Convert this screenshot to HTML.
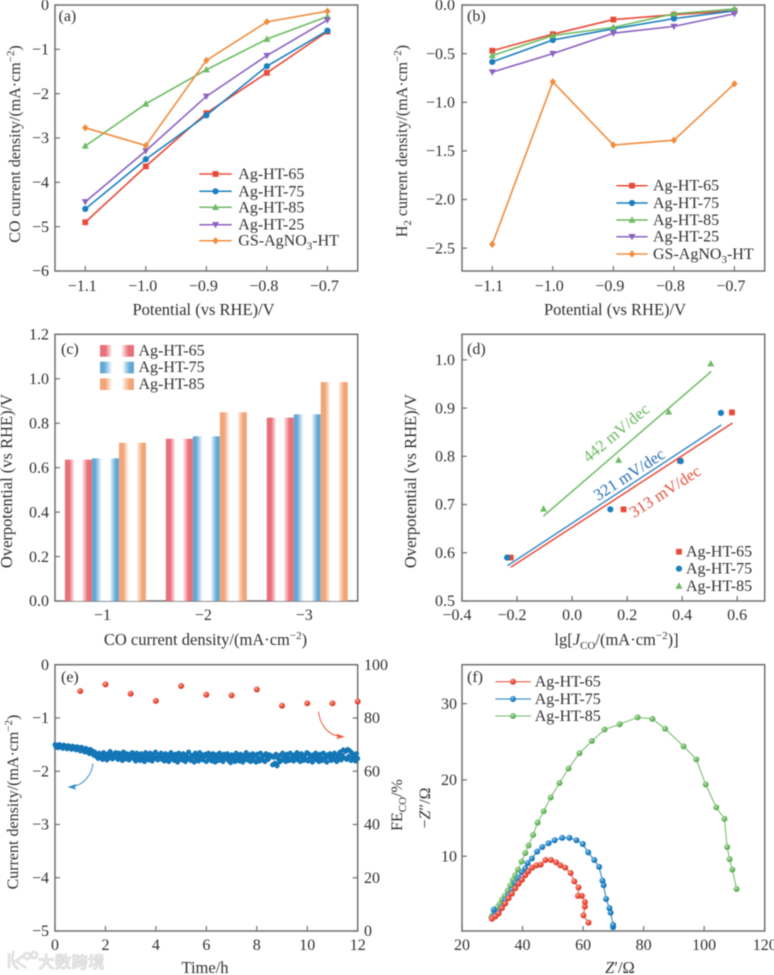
<!DOCTYPE html>
<html lang="en">
<head>
<meta charset="utf-8">
<title>Electrochemical CO2 reduction performance panels</title>
<style>
html,body{margin:0;padding:0;background:#fff;}
body{width:774px;height:975px;overflow:hidden;}
#fig{display:block;filter:blur(0.45px);}
text{font-family:"Liberation Serif","Noto Serif CJK SC",serif;font-size:16px;fill:#303030;}
.title{font-size:16.5px;}
.frame{fill:none;stroke:#707070;stroke-width:1.5;}
.tick{stroke:#707070;stroke-width:1.2;}
.wm{font-family:"Liberation Sans","Noto Sans CJK SC",sans-serif;font-size:16.5px;font-weight:700;fill:#e8e8e8;stroke:#d2d2d2;stroke-width:.5;letter-spacing:.2px;}
</style>
</head>
<body>
<svg id="fig" xmlns="http://www.w3.org/2000/svg" width="774" height="975" viewBox="0 0 774 975">
<defs>
<linearGradient id="grad-red" x1="0" x2="1" y1="0" y2="0"><stop offset="0" stop-color="#e96f78"/><stop offset=".16" stop-color="#e96f78"/><stop offset=".36" stop-color="#fff"/><stop offset=".62" stop-color="#fff"/><stop offset=".68" stop-color="#f9d3d6"/><stop offset=".84" stop-color="#e96f78"/><stop offset="1" stop-color="#e96f78"/></linearGradient>
<linearGradient id="grad-blue" x1="0" x2="1" y1="0" y2="0"><stop offset="0" stop-color="#62a8d6"/><stop offset=".12" stop-color="#62a8d6"/><stop offset=".36" stop-color="#fff"/><stop offset=".66" stop-color="#fff"/><stop offset=".72" stop-color="#cfe4f3"/><stop offset=".88" stop-color="#62a8d6"/><stop offset="1" stop-color="#62a8d6"/></linearGradient>
<linearGradient id="grad-orange" x1="0" x2="1" y1="0" y2="0"><stop offset="0" stop-color="#f2a678"/><stop offset=".16" stop-color="#f2a678"/><stop offset=".36" stop-color="#fff"/><stop offset=".66" stop-color="#fff"/><stop offset=".7" stop-color="#fbe3d3"/><stop offset=".86" stop-color="#f2a678"/><stop offset="1" stop-color="#f2a678"/></linearGradient>
<radialGradient id="ball-red" cx=".38" cy=".35" r=".7"><stop offset="0" stop-color="#fbb3a6"/><stop offset=".5" stop-color="#ea4c3a"/><stop offset="1" stop-color="#d9382a"/></radialGradient>
<radialGradient id="ball-blue" cx=".38" cy=".35" r=".7"><stop offset="0" stop-color="#9fd0ef"/><stop offset=".5" stop-color="#1f82c4"/><stop offset="1" stop-color="#146fb0"/></radialGradient>
<radialGradient id="ball-green" cx=".38" cy=".35" r=".7"><stop offset="0" stop-color="#c8e8bc"/><stop offset=".5" stop-color="#6db965"/><stop offset="1" stop-color="#58a850"/></radialGradient>
</defs>

<!-- Panel frames -->
<rect class="frame" x="55" y="5" width="302.7" height="266"/>
<rect class="frame" x="462" y="5" width="302.7" height="266"/>
<rect class="frame" x="55" y="334.3" width="302.7" height="266.7"/>
<rect class="frame" x="462" y="334.3" width="302.7" height="266.7"/>
<rect class="frame" x="55" y="664.7" width="302.7" height="266.3"/>
<rect class="frame" x="462" y="664.7" width="302.7" height="266.3"/>

<!-- Panel letters -->
<text x="58.5" y="21">(a)</text>
<text x="467" y="21">(b)</text>
<text x="61" y="354">(c)</text>
<text x="467" y="354">(d)</text>
<text x="61" y="682">(e)</text>
<text x="467" y="682">(f)</text>

<!-- Axis titles -->
<text class="title" x="203.5" y="315" text-anchor="middle">Potential (vs RHE)/V</text>
<text text-anchor="middle" transform="translate(20,144) rotate(-90)">CO current density/(mA·cm<tspan dy="-6" font-size="11">−2</tspan><tspan dy="6">)</tspan></text>
<text class="title" x="615" y="315" text-anchor="middle">Potential (vs RHE)/V</text>
<text text-anchor="middle" transform="translate(407,141) rotate(-90)">H<tspan dy="4" font-size="11">2</tspan><tspan dy="-4"> current density/(mA·cm</tspan><tspan dy="-6" font-size="11">−2</tspan><tspan dy="6">)</tspan></text>
<text class="title" x="205.5" y="645" text-anchor="middle">CO current density/(mA·cm<tspan dy="-6" font-size="11">−2</tspan><tspan dy="6">)</tspan></text>
<text class="title" text-anchor="middle" transform="translate(12,481) rotate(-90)">Overpotential (vs RHE)/V</text>
<text class="title" x="616.5" y="645" text-anchor="middle">lg[<tspan font-style="italic">J</tspan><tspan dy="4" font-size="11">CO</tspan><tspan dy="-4">/(mA·cm</tspan><tspan dy="-6" font-size="11">−2</tspan><tspan dy="6">)]</tspan></text>
<text class="title" text-anchor="middle" transform="translate(416,481) rotate(-90)">Overpotential (vs RHE)/V</text>
<text class="title" x="205" y="973" text-anchor="middle">Time/h</text>
<text text-anchor="middle" transform="translate(18,802) rotate(-90)">Current density/(mA·cm<tspan dy="-6" font-size="11">−2</tspan><tspan dy="6">)</tspan></text>
<text text-anchor="middle" transform="translate(402,805) rotate(-90)">FE<tspan dy="4" font-size="11">CO</tspan><tspan dy="-4">/%</tspan></text>
<text class="title" x="620" y="973" text-anchor="middle"><tspan font-style="italic">Z</tspan>′/Ω</text>
<text text-anchor="middle" transform="translate(430,808) rotate(-90)">−<tspan font-style="italic">Z</tspan>″/Ω</text>

<!-- Slope annotations -->
<text text-anchor="middle" style="fill:#6cb862;font-size:16.5px" transform="translate(619.5,437) rotate(-40)">442 mV/dec</text>
<text text-anchor="middle" style="fill:#2a6fb4;font-size:16.5px" transform="translate(632,479) rotate(-33)">321 mV/dec</text>
<text text-anchor="middle" style="fill:#e8503e;font-size:16.5px" transform="translate(668,496) rotate(-33)">313 mV/dec</text>

<!-- Trend arrows in panel e -->
<path d="M318.5 711.5 C320 725 328 735 340 736.5" fill="none" stroke="#ee5a40" stroke-width="1"/>
<polygon points="345,736.7 336,733.6 338,736.6 336,739.3" fill="#ee5a40"/>
<path d="M93 763.5 C91.5 776 83 785 72 786.8" fill="none" stroke="#2f8ac6" stroke-width="1"/>
<polygon points="67.5,787 76.5,784 74.5,787 76.5,789.8" fill="#2f8ac6"/>

<!-- Watermark -->
<g>
<path d="M9 953 L9 968 M14 951 C11 958 12 966 19 969 M24 955 L16 961 L26 968 M27 953 a3 3 0 1 0 .1 0 M34 952 a3 3 0 1 0 .1 0" fill="none" stroke="#e2e2e2" stroke-width="2.8"/>
<text class="wm" x="38" y="968">大数跨境</text>
</g>

<g id="marks"></g>
</svg>

<script>
// ---------- Shared categories ----------
const potentials = [-1.1, -1.0, -0.9, -0.8, -0.7];
const sampleNames = ['Ag-HT-65', 'Ag-HT-75', 'Ag-HT-85', 'Ag-HT-25', 'GS-AgNO3-HT'];

// ---------- Panel (a): CO current density ----------
const coHT65 = [-4.90, -3.64, -2.44, -1.53, -0.60];
const coHT75 = [-4.60, -3.48, -2.49, -1.38, -0.58];
const coHT85 = [-3.18, -2.23, -1.46, -0.77, -0.26];
const coHT25 = [-4.44, -3.29, -2.06, -1.14, -0.34];
const coGS   = [-2.77, -3.17, -1.25, -0.38, -0.14];
const aYTicks = [0, -1, -2, -3, -4, -5, -6];

// ---------- Panel (b): H2 current density ----------
const h2HT65 = [-0.47, -0.30, -0.15, -0.10, -0.06];
const h2HT75 = [-0.585, -0.36, -0.245, -0.14, -0.06];
const h2HT85 = [-0.52, -0.315, -0.23, -0.09, -0.04];
const h2HT25 = [-0.69, -0.50, -0.29, -0.22, -0.09];
const h2GS   = [-2.46, -0.79, -1.44, -1.39, -0.81];
const bYTicks = [0, -0.5, -1.0, -1.5, -2.0, -2.5];

// ---------- Panel (c): overpotential bars ----------
const barCategories = ['−1', '−2', '−3'];
const barHT65 = [0.636, 0.73, 0.825];
const barHT75 = [0.642, 0.741, 0.84];
const barHT85 = [0.712, 0.849, 0.985];
const cYTicks = [0, 0.2, 0.4, 0.6, 0.8, 1.0, 1.2];

// ---------- Panel (d): Tafel ----------
const tafelXHT65 = [-0.223, 0.187, 0.392, 0.581];
const tafelYHT65 = [0.59, 0.69, 0.791, 0.891];
const tafelXHT75 = [-0.236, 0.139, 0.395, 0.541];
const tafelYHT75 = [0.59, 0.69, 0.79, 0.89];
const tafelXHT85 = [-0.104, 0.169, 0.351, 0.504];
const tafelYHT85 = [0.691, 0.792, 0.892, 0.992];
const fitXHT65 = [-0.223, 0.583];
const fitYHT65 = [0.57, 0.869];
const fitXHT75 = [-0.235, 0.542];
const fitYHT75 = [0.573, 0.865];
const fitXHT85 = [-0.104, 0.506];
const fitYHT85 = [0.676, 0.976];
const dXTicks = [-0.4, -0.2, 0, 0.2, 0.4, 0.6];
const dYTicks = [0.5, 0.6, 0.7, 0.8, 0.9, 1.0];

// ---------- Panel (e): stability ----------
const currentDurationHours = 12;
const currentDensity = [
-1.50,-1.55,-1.51,-1.56,-1.50,-1.54,-1.52,-1.57,-1.51,-1.55,-1.53,-1.58,-1.52,-1.56,-1.54,-1.59,-1.53,-1.57,
-1.55,-1.60,-1.54,-1.59,-1.56,-1.62,-1.55,-1.61,-1.58,-1.64,-1.57,-1.63,-1.60,-1.67,-1.59,-1.66,-1.62,-1.70,
-1.64,-1.72,-1.68,-1.76,-1.66,-1.74,-1.70,-1.78,-1.65,-1.73,-1.69,-1.79,-1.67,-1.75,-1.63,-1.72,-1.77,-1.68,-1.74,-1.65,
-1.71,-1.78,-1.66,-1.74,-1.69,-1.80,-1.64,-1.73,-1.77,-1.67,-1.72,-1.79,-1.68,-1.75,-1.65,-1.76,-1.70,-1.81,-1.66,-1.74,
-1.69,-1.80,-1.67,-1.75,-1.72,-1.82,-1.65,-1.77,-1.70,-1.79,-1.66,-1.73,-1.81,-1.68,-1.76,-1.64,-1.74,-1.79,-1.69,-1.72,
-1.66,-1.78,-1.71,-1.81,-1.67,-1.75,-1.69,-1.82,-1.73,-1.65,-1.77,-1.70,-1.80,-1.68,-1.74,-1.83,-1.66,-1.76,-1.71,-1.79,
-1.67,-1.74,-1.82,-1.69,-1.77,-1.64,-1.75,-1.80,-1.70,-1.73,-1.83,-1.66,-1.78,-1.71,-1.81,-1.65,-1.76,-1.69,-1.79,-1.72,
-1.68,-1.82,-1.73,-1.66,-1.78,-1.70,-1.81,-1.67,-1.75,-1.83,-1.69,-1.74,-1.80,-1.66,-1.77,-1.71,-1.82,-1.68,-1.76,-1.72,
-1.67,-1.80,-1.74,-1.84,-1.69,-1.76,-1.71,-1.82,-1.66,-1.78,-1.73,-1.81,-1.68,-1.75,-1.83,-1.70,-1.77,-1.65,-1.79,-1.72,
-1.69,-1.82,-1.74,-1.67,-1.80,-1.71,-1.83,-1.68,-1.76,-1.81,-1.66,-1.75,-1.79,-1.70,-1.82,-1.67,-1.74,-1.78,-1.69,-1.73,
-1.71,-1.88,-1.74,-1.85,-1.68,-1.90,-1.76,-1.83,-1.70,-1.80,-1.66,-1.77,-1.73,-1.82,-1.68,-1.75,-1.80,-1.66,-1.78,-1.71,
-1.81,-1.69,-1.75,-1.65,-1.79,-1.72,-1.82,-1.67,-1.74,-1.80,-1.70,-1.77,-1.65,-1.81,-1.68,-1.75,-1.72,-1.83,-1.69,-1.76,
-1.66,-1.79,-1.73,-1.82,-1.68,-1.75,-1.80,-1.66,-1.77,-1.71,-1.83,-1.69,-1.74,-1.67,-1.80,-1.72,-1.78,-1.66,-1.75,-1.82,
-1.69,-1.76,-1.64,-1.79,-1.70,-1.60,-1.75,-1.63,-1.78,-1.59,-1.72,-1.62,-1.80,-1.66,-1.74,-1.70,-1.81,-1.67,-1.76];
const feHours = [1, 2, 3, 4, 5, 6, 7, 8, 9, 10, 11, 12];
const feValues = [90.1, 92.6, 89.1, 86.4, 92.0, 88.7, 88.5, 90.7, 84.6, 85.5, 85.5, 86.2];
const eXTicks = [0, 2, 4, 6, 8, 10, 12];
const eYTicks = [0, -1, -2, -3, -4, -5];
const eRightTicks = [100, 80, 60, 40, 20, 0];

// ---------- Panel (f): Nyquist ----------
const nyqXHT65 = [61.8,60.1,60.6,60.6,59.6,58.3,58.5,57.1,55.9,54.1,52.5,51.1,49.4,47.6,46.0,44.6,43.2,41.9,40.9,39.8,38.7,37.6,36.5,35.4,34.3,33.2,32.1,31.0,29.9];
const nyqYHT65 = [1.3,2.25,3.4,4.0,4.8,4.8,5.9,6.7,7.8,8.5,8.8,9.2,9.5,9.5,8.9,8.8,8.5,8.0,7.5,6.9,6.4,5.8,5.1,4.5,3.8,3.2,2.5,2.1,1.8];
const nyqXHT75 = [69.9,69.9,69.1,68.7,67.6,66.8,66.4,65.3,63.7,61.7,59.9,57.8,55.5,53.1,50.6,48.6,46.5,44.8,43.1,41.7,40.9,39.8,38.7,37.6,36.5,35.4,34.3,33.2,32.1,31.0,30.2,30.5];
const nyqYHT75 = [0.7,1.0,2.6,3.2,4.4,6.2,6.8,8.6,9.5,10.5,11.6,12.1,12.4,12.4,12.1,11.7,11.2,10.6,9.7,9.1,8.4,7.9,7.2,6.5,5.6,4.9,4.3,3.4,2.7,2.3,2.1,3.0];
const nyqXHT85 = [110.7,109.3,108.4,107.6,106.7,104.0,100.5,97.4,93.2,87.1,82.9,78.0,72.1,67.1,62.9,58.8,55.2,52.2,49.3,47.0,45.0,43.5,42.0,40.9,39.7,38.5,37.6,36.8,36.0,35.1,34.1,33.2,32.4,31.7,31.0,30.5,30.0,29.7];
const nyqYHT85 = [5.71,8.25,9.6,11.2,14.9,16.4,19.4,22.7,24.4,26.7,28.0,28.2,27.3,26.6,25.1,23.5,21.5,19.6,17.7,15.9,14.4,12.8,11.4,10.4,9.3,8.25,7.5,6.9,6.2,5.5,4.8,4.3,3.7,3.3,2.9,2.5,2.2,2.0];
const fXTicks = [20, 40, 60, 80, 100, 120];
const fYTicks = [10, 20, 30];

// ---------- Styling (not data) ----------
const RED = '#ea4a38', BLUE = '#1b7fc0', GREEN = '#6dbb62', PURPLE = '#8a62c2', ORANGE = '#f08d3e';
const NS = 'http://www.w3.org/2000/svg';
const root = document.getElementById('marks');

function make(tag, attrs, parent) {
  const node = document.createElementNS(NS, tag);
  for (const k in attrs) node.setAttribute(k, attrs[k]);
  (parent || root).appendChild(node);
  return node;
}
function linear(d0, d1, r0, r1) {
  return function (v) { return r0 + (v - d0) * (r1 - r0) / (d1 - d0); };
}
function fmt(v, decimals) {
  const s = Math.abs(v).toFixed(decimals);
  return (v < 0 ? '−' : '') + s;
}

function shapeMark(shape, x, y, color, s) {
  let el;
  if (shape === 'square') {
    el = make('rect', { x: x - s, y: y - s, width: 2 * s, height: 2 * s, fill: color });
  } else if (shape === 'circle') {
    el = make('circle', { cx: x, cy: y, r: s + 0.2, fill: color });
  } else if (shape === 'up') {
    el = make('polygon', { points: [x, y - s - 0.8, x + s + 0.6, y + s - 0.2, x - s - 0.6, y + s - 0.2].join(' '), fill: color });
  } else if (shape === 'down') {
    el = make('polygon', { points: [x, y + s + 0.8, x + s + 0.6, y - s + 0.2, x - s - 0.6, y - s + 0.2].join(' '), fill: color });
  } else {
    el = make('polygon', { points: [x, y - s - 0.8, x + s + 0.3, y, x, y + s + 0.8, x - s - 0.3, y].join(' '), fill: color });
  }
  
  
  return el;
}

function tickLine(x1, y1, x2, y2) {
  const el = make('line', { x1: x1, y1: y1, x2: x2, y2: y2, class: 'tick' });
  
  
}
function tickText(x, y, anchor, str) {
  const el = make('text', { x: x, y: y, 'text-anchor': anchor });
  el.textContent = str;
  
  
}

function yAxis(ticks, scale, axisX, labelX, decimals, tickDir) {
  ticks.forEach(function (v) {
    const y = scale(v);
    tickLine(axisX, y, axisX + 5 * tickDir, y);
    tickText(labelX, y + 5.2, tickDir > 0 ? 'end' : 'start', fmt(v, decimals));
  });
}
function xAxis(ticks, scale, axisY, labelY, decimals, negShift) {
  ticks.forEach(function (v) {
    const x = scale(v);
    tickLine(x, axisY, x, axisY - 5);
    tickText(x + (v < 0 ? negShift : 0), labelY, 'middle', fmt(v, decimals));
  });
}

function drawLineSeries(xs, ys, sx, sy, color, shape, width) {
  const pts = xs.map(function (x, i) { return sx(x) + ',' + sy(ys[i]); }).join(' ');
  const line = make('polyline', { points: pts, fill: 'none', stroke: color, 'stroke-width': width });
  
  
  xs.forEach(function (x, i) { shapeMark(shape, sx(x), sy(ys[i]), color, 2.9); });
}

function legendLine(x1, x2, tx, y, color, shape, label) {
  const l = make('line', { x1: x1, x2: x2, y1: y, y2: y, stroke: color, 'stroke-width': 1.5 });
  
  
  shapeMark(shape, (x1 + x2) / 2, y, color, 2.9);
  legendText(tx, y, label);
}
function legendText(tx, y, label) {
  const t = make('text', { x: tx, y: y + 5 });
  if (label === 'GS-AgNO3-HT') {
    t.appendChild(document.createTextNode('GS-AgNO'));
    const sub = make('tspan', { dy: 4, 'font-size': 11 }, t);
    sub.textContent = '3';
    const rest = make('tspan', { dy: -4 }, t);
    rest.textContent = '-HT';
  } else {
    t.textContent = label;
  }
  
  
}

// ---------- Panel (a) ----------
const ax = linear(-1.15, -0.65, 55, 357.7);
const ay = linear(0, -6, 5, 271);
yAxis(aYTicks, ay, 55, 49, 0, 1);
xAxis(potentials, ax, 271, 291, 1, -3);
drawLineSeries(potentials, coHT65, ax, ay, RED, 'square', 1.6);
drawLineSeries(potentials, coHT75, ax, ay, BLUE, 'circle', 1.6);
drawLineSeries(potentials, coHT85, ax, ay, GREEN, 'up', 1.6);
drawLineSeries(potentials, coHT25, ax, ay, PURPLE, 'down', 1.6);
drawLineSeries(potentials, coGS, ax, ay, ORANGE, 'diamond', 1.6);
legendLine(199.3, 231.7, 238.3, 174, RED, 'square', sampleNames[0]);
legendLine(199.3, 231.7, 238.3, 191.3, BLUE, 'circle', sampleNames[1]);
legendLine(199.3, 231.7, 238.3, 207.3, GREEN, 'up', sampleNames[2]);
legendLine(199.3, 231.7, 238.3, 224.7, PURPLE, 'down', sampleNames[3]);
legendLine(199.3, 231.7, 238.3, 240.7, ORANGE, 'diamond', sampleNames[4]);

// ---------- Panel (b) ----------
const bx = linear(-1.15, -0.65, 462, 764.7);
const by = linear(0, -2.735, 5, 271);
yAxis(bYTicks, by, 462, 455, 1, 1);
xAxis(potentials, bx, 271, 291, 1, -3.5);
drawLineSeries(potentials, h2HT65, bx, by, RED, 'square', 1.6);
drawLineSeries(potentials, h2HT75, bx, by, BLUE, 'circle', 1.6);
drawLineSeries(potentials, h2HT85, bx, by, GREEN, 'up', 1.6);
drawLineSeries(potentials, h2HT25, bx, by, PURPLE, 'down', 1.6);
drawLineSeries(potentials, h2GS, bx, by, ORANGE, 'diamond', 1.6);
legendLine(616.3, 647.7, 653, 185.7, RED, 'square', sampleNames[0]);
legendLine(616.3, 647.7, 653, 203, BLUE, 'circle', sampleNames[1]);
legendLine(616.3, 647.7, 653, 220, GREEN, 'up', sampleNames[2]);
legendLine(616.3, 647.7, 653, 236.7, PURPLE, 'down', sampleNames[3]);
legendLine(616.3, 647.7, 653, 254, ORANGE, 'diamond', sampleNames[4]);

// ---------- Panel (c) ----------
const cy = linear(0, 1.2, 601, 334.3);
yAxis(cYTicks, cy, 55, 49, 1, 1);
const bandLeft = 55, bandStep = 100.9, barWidth = 27;
function drawBars(values, barIndex, gradient) {
  values.forEach(function (v, i) {
    const x = bandLeft + bandStep * (i + 0.5) + (barIndex - 1.5) * barWidth;
    const bar = make('rect', { x: x, y: cy(v), width: barWidth, height: cy(0) - cy(v), fill: gradient });
    
    
  });
}
drawBars(barHT65, 0, 'url(#grad-red)');
drawBars(barHT75, 1, 'url(#grad-blue)');
drawBars(barHT85, 2, 'url(#grad-orange)');
barCategories.forEach(function (label, i) {
  tickText(bandLeft + bandStep * (i + 0.5) - 3, 620, 'middle', label);
});
function legendSwatch(y, gradient, label) {
  const r = make('rect', { x: 100, y: y, width: 34, height: 11.7, fill: gradient });
  
  
  legendText(138.5, y + 5.5, label);
}
legendSwatch(345, 'url(#grad-red)', sampleNames[0]);
legendSwatch(361.7, 'url(#grad-blue)', sampleNames[1]);
legendSwatch(378.3, 'url(#grad-orange)', sampleNames[2]);

// ---------- Panel (d) ----------
const dx = linear(-0.4, 0.7, 462, 764.7);
const dy = linear(0.5, 1.053, 601, 334.3);
yAxis(dYTicks, dy, 462, 455, 1, 1);
xAxis(dXTicks, dx, 601, 620, 1, -5);
function drawFit(xs, ys, color) {
  const l = make('line', { x1: dx(xs[0]), y1: dy(ys[0]), x2: dx(xs[1]), y2: dy(ys[1]), stroke: color, 'stroke-width': 1.5 });
  
  
}
function drawTafel(xs, ys, color, shape) {
  xs.forEach(function (x, i) { shapeMark(shape, dx(x), dy(ys[i]), color, 2.9); });
}
drawFit(fitXHT65, fitYHT65, RED);
drawFit(fitXHT75, fitYHT75, '#3a8cc8');
drawFit(fitXHT85, fitYHT85, GREEN);
drawTafel(tafelXHT65, tafelYHT65, RED, 'square');
drawTafel(tafelXHT75, tafelYHT75, BLUE, 'circle');
drawTafel(tafelXHT85, tafelYHT85, GREEN, 'up');
shapeMark('square', 679, 551.7, RED, 2.9);
legendText(686, 551.7, sampleNames[0]);
shapeMark('circle', 679, 568.7, BLUE, 2.9);
legendText(686, 568.7, sampleNames[1]);
shapeMark('up', 679, 586, GREEN, 3);
legendText(686, 586, sampleNames[2]);

// ---------- Panel (e) ----------
const ex = linear(0, 12, 55, 357.7);
const ey = linear(0, -5, 664.7, 931);
const eyR = linear(0, 100, 931, 664.7);
yAxis(eYTicks, ey, 55, 49, 0, 1);
xAxis(eXTicks, ex, 931, 950, 0, 0);
yAxis(eRightTicks, eyR, 357.7, 364, 0, -1);
currentDensity.forEach(function (v, i) {
  const hour = i * currentDurationHours / (currentDensity.length - 1);
  const c = make('circle', { cx: ex(hour), cy: ey(v), r: 2.3, fill: '#1578b8', stroke: '#0f6fae', 'stroke-width': 0.4 });
  
  
});
feHours.forEach(function (h, i) {
  const c = make('circle', { cx: ex(h), cy: eyR(feValues[i]), r: 3, fill: 'url(#ball-red)' });
  
  
});

// ---------- Panel (f) ----------
const fx = linear(20, 120, 462, 764.7);
const fy = linear(0.2, 35.1, 931, 664.7);
yAxis(fYTicks, fy, 462, 457, 0, 1);
fXTicks.forEach(function (v) {
  tickLine(fx(v), 931, fx(v), 926);
  tickText(fx(v), 950, 'middle', String(v));
});
function drawNyquist(xs, ys, lineColor, ball) {
  const pts = xs.map(function (x, i) { return fx(x) + ',' + fy(ys[i]); }).join(' ');
  const l = make('polyline', { points: pts, fill: 'none', stroke: lineColor, 'stroke-width': 1 });
  
  
  xs.forEach(function (x, i) {
    const c = make('circle', { cx: fx(x), cy: fy(ys[i]), r: 3, fill: ball });
    
    
  });
}
drawNyquist(nyqXHT85, nyqYHT85, GREEN, 'url(#ball-green)');
drawNyquist(nyqXHT75, nyqYHT75, BLUE, 'url(#ball-blue)');
drawNyquist(nyqXHT65, nyqYHT65, RED, 'url(#ball-red)');
function legendBall(y, color, ball, label) {
  const l = make('line', { x1: 495.3, x2: 531, y1: y, y2: y, stroke: color, 'stroke-width': 1 });
  
  
  const c = make('circle', { cx: 513, cy: y, r: 3, fill: ball });
  
  
  legendText(534.7, y, label);
}
legendBall(681.7, RED, 'url(#ball-red)', sampleNames[0]);
legendBall(699, BLUE, 'url(#ball-blue)', sampleNames[1]);
legendBall(716, GREEN, 'url(#ball-green)', sampleNames[2]);
</script>
</body>
</html>
